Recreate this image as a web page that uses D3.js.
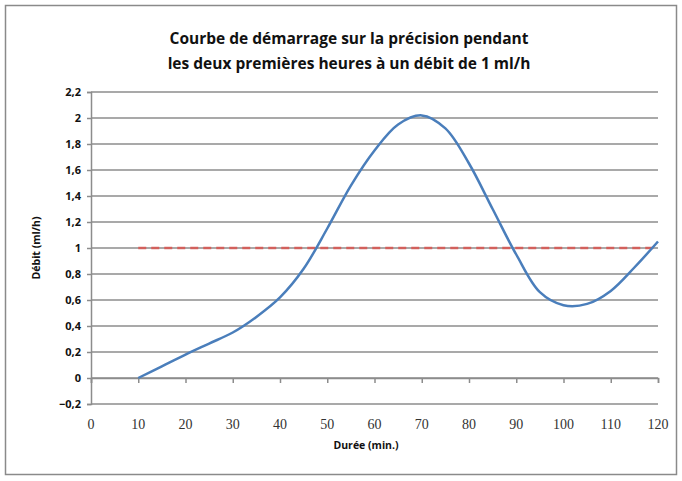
<!DOCTYPE html>
<html><head><meta charset="utf-8">
<script src="https://cdn.jsdelivr.net/npm/d3@7"></script>
<style>body{margin:0;background:#fff}</style>
</head><body><svg id="c" width="682" height="481"></svg>
<script>
const titleLines = ["Courbe de démarrage sur la précision pendant", "les deux premières heures à un débit de 1 ml/h"];
const xTitle = "Durée (min.)";
const yTitle = "Débit (ml/h)";
const durations = [10,15,20,25,30,35,40,45,50,55,60,65,70,75,80,85,90,95,100,105,110,115,120];
const debit = [0,0.09,0.18,0.265,0.35,0.47,0.62,0.84,1.15,1.48,1.75,1.95,2.02,1.92,1.65,1.30,0.95,0.66,0.56,0.57,0.67,0.85,1.05];
const targetX = [10,120];
const targetY = [1,1];
const xTicks = [0,10,20,30,40,50,60,70,80,90,100,110,120];
const yTicks = [-0.2,0,0.2,0.4,0.6,0.8,1,1.2,1.4,1.6,1.8,2,2.2];

const svg = d3.select("#c");
svg.append("rect").attr("x",5.5).attr("y",5.5).attr("width",671).attr("height",469)
  .attr("fill","#fff").attr("stroke","#8a8a8a").attr("stroke-width",1.5);

const x = d3.scaleLinear().domain([0,120]).range([91,658]);
const y = d3.scaleLinear().domain([-0.2,2.2]).range([404,92]);
const font = "'Open Sans', 'DejaVu Sans', sans-serif";

// title
svg.selectAll("text.title").data(titleLines).enter().append("text")
  .attr("class","title").attr("x",349).attr("y",(d,i)=>44+i*25)
  .attr("text-anchor","middle").attr("font-family",font).attr("font-weight","bold")
  .attr("font-size",15.5).attr("fill","#111").text(d=>d);

// gridlines
svg.append("g").selectAll("line").data(yTicks).enter().append("line")
  .attr("x1",x(0)).attr("x2",x(120)).attr("y1",d=>y(d)).attr("y2",d=>y(d))
  .attr("stroke","#8c8c8c").attr("stroke-width",1.5);

// y axis
const yAxis = svg.append("g").attr("transform",`translate(${x(0)},0)`)
  .call(d3.axisLeft(y).tickValues(yTicks).tickSize(4).tickPadding(6)
    .tickFormat(d=>d3.format(".1~f")(d).replace(".",",")));
yAxis.select(".domain").attr("stroke","#8c8c8c").attr("stroke-width",1.5);
yAxis.selectAll(".tick line").attr("stroke","#8c8c8c").attr("stroke-width",1.5);
yAxis.selectAll("text").attr("font-family",font).attr("font-weight","bold")
  .attr("font-size",11).attr("fill","#111");

// x axis at y=0 with ticks, labels below plot
const xAxis = svg.append("g").attr("transform",`translate(0,${y(0)})`)
  .call(d3.axisBottom(x).tickValues(xTicks).tickSize(5).tickFormat(""));
xAxis.select(".domain").attr("stroke","#8c8c8c").attr("stroke-width",1.5);
xAxis.selectAll(".tick line").attr("stroke","#8c8c8c").attr("stroke-width",1.5);

svg.append("g").selectAll("text").data(xTicks).enter().append("text")
  .attr("x",d=>x(d)).attr("y",429).attr("text-anchor","middle")
  .attr("font-family","'Liberation Serif', serif").attr("font-size",14)
  .attr("fill","#333").text(d=>d);

// axis titles
svg.append("text").attr("x",366).attr("y",449).attr("text-anchor","middle")
  .attr("font-family",font).attr("font-weight","bold").attr("font-size",10.5)
  .attr("fill","#111").text(xTitle);
svg.append("text").attr("transform","translate(40,248) rotate(-90)").attr("text-anchor","middle")
  .attr("font-family",font).attr("font-weight","bold").attr("font-size",10.5)
  .attr("fill","#111").text(yTitle);

// target dashed line
svg.append("path").datum(targetX.map((d,i)=>[d,targetY[i]]))
  .attr("d",d3.line().x(d=>x(d[0])).y(d=>y(d[1])))
  .attr("fill","none").attr("stroke","#d9534f").attr("stroke-width",2.5)
  .attr("stroke-dasharray","8,5").attr("opacity",0.85);

// main curve
svg.append("path").datum(durations.map((d,i)=>[d,debit[i]]))
  .attr("d",d3.line().curve(d3.curveCatmullRom.alpha(0.5)).x(d=>x(d[0])).y(d=>y(d[1])))
  .attr("fill","none").attr("stroke","#4a7ebb").attr("stroke-width",2.5);
</script></body></html>
